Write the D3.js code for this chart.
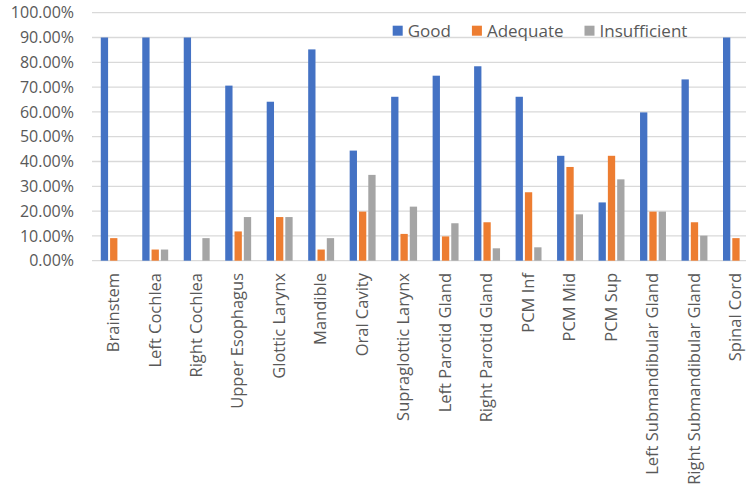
<!DOCTYPE html>
<html lang="en">
<head>
    <meta charset="UTF-8">
    <title>Contour quality</title>
    <script src="https://d3js.org/d3.v7.min.js"></script>
    <style>
        body { margin: 0; background: #fff; }
        svg { display: block; font-family: "Open Sans", sans-serif; }
        .grid line { stroke: #d9d9d9; stroke-width: 1.3; }
        .tick-label, .cat-label, .legend text { fill: #595959; }
        .tick-label { font-size: 16px; }
        .cat-label { font-size: 16.5px; }
        .legend text { font-size: 17px; }
    </style>
</head>
<body>
    <svg width="746" height="491"></svg>
    <script>
        var categories = ["Brainstem", "Left Cochlea", "Right Cochlea", "Upper Esophagus", "Glottic Larynx",
            "Mandible", "Oral Cavity", "Supraglottic Larynx", "Left Parotid Gland", "Right Parotid Gland",
            "PCM Inf", "PCM Mid", "PCM Sup", "Left Submandibular Gland", "Right Submandibular Gland", "Spinal Cord"];
        var seriesNames = ["Good", "Adequate", "Insufficient"];
        var good =         [90.0, 90.0, 90.0, 70.6, 64.1, 85.2, 44.4, 66.1, 74.6, 78.4, 66.1, 42.3, 23.5, 59.8, 73.1, 90.0];
        var adequate =     [ 9.1,  4.5,  0.0, 11.8, 17.6,  4.5, 19.8, 10.8,  9.8, 15.5, 27.6, 37.8, 42.3, 19.8, 15.5,  9.1];
        var insufficient = [ 0.0,  4.5,  9.1, 17.6, 17.6,  9.1, 34.6, 21.8, 15.1,  5.0,  5.4, 18.7, 32.8, 19.8, 10.1,  0.0];
        var yTicks = [0, 10, 20, 30, 40, 50, 60, 70, 80, 90, 100];
        var colors = ["#4472c4", "#ed7d31", "#a5a5a5"];

        var seriesValues = [good, adequate, insufficient];
        var rows = categories.map(function(c, i) {
            return { cat: c, vals: seriesNames.map(function(s, k) { return { key: s, v: seriesValues[k][i] }; }) };
        });

        var svg = d3.select("svg");

        var x0 = d3.scaleBand().domain(categories).range([93, 756.7]).paddingInner(0.375).paddingOuter(0.1875);
        var x1 = d3.scaleBand().domain(seriesNames).range([0, x0.bandwidth()]).paddingInner(0.215);
        var y = d3.scaleLinear().domain([0, 100]).range([260.7, 12.7]);
        var color = d3.scaleOrdinal().domain(seriesNames).range(colors);

        // gridlines
        svg.append("g").attr("class", "grid")
            .selectAll("line").data(yTicks).enter().append("line")
            .attr("x1", 92).attr("x2", 746)
            .attr("y1", function(d) { return y(d); })
            .attr("y2", function(d) { return y(d); });

        // y labels
        svg.append("g").selectAll("text").data(yTicks).enter().append("text")
            .attr("class", "tick-label")
            .attr("x", 74)
            .attr("y", function(d) { return y(d); })
            .attr("dy", "0.35em")
            .attr("text-anchor", "end")
            .text(function(d) { return d3.format(".2f")(d) + "%"; });

        // bars
        var groups = svg.append("g").selectAll("g").data(rows).enter().append("g")
            .attr("transform", function(d) { return "translate(" + x0(d.cat) + ",0)"; });

        groups.selectAll("rect").data(function(d) { return d.vals; }).enter().append("rect")
            .attr("x", function(d) { return x1(d.key); })
            .attr("y", function(d) { return y(d.v); })
            .attr("width", x1.bandwidth())
            .attr("height", function(d) { return y(0) - y(d.v); })
            .attr("fill", function(d) { return color(d.key); });

        // category labels
        svg.append("g").selectAll("text").data(categories).enter().append("text")
            .attr("class", "cat-label")
            .attr("text-anchor", "end")
            .attr("dy", "0.35em")
            .attr("transform", function(d) {
                return "translate(" + (x0(d) + x0.bandwidth() / 2 - 0.5) + ",273) rotate(-90)";
            })
            .text(function(d) { return d; });

        // legend
        var legend = svg.append("g").attr("class", "legend");
        var lx = 392.7;
        seriesNames.forEach(function(s) {
            legend.append("rect").attr("x", lx).attr("y", 25.7).attr("width", 10).attr("height", 10)
                .attr("fill", color(s));
            var t = legend.append("text").attr("x", lx + 15).attr("y", 36.5).text(s);
            lx += 15 + t.node().getComputedTextLength() + 21;
        });
    </script>
</body>
</html>
